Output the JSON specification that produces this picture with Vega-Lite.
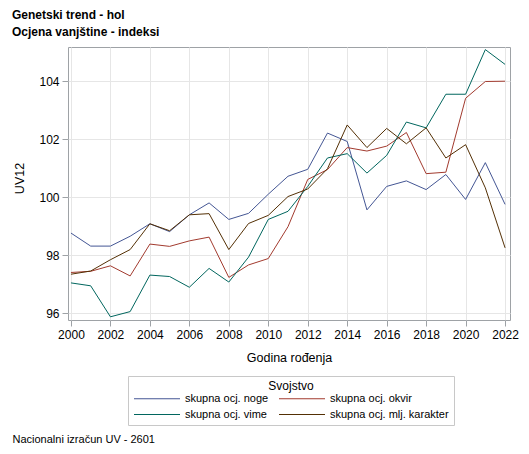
{
  "$schema": "https://vega.github.io/schema/vega-lite/v6.json",
  "description": "Genetski trend - hol, ocjena vanjštine (indeksi UV12) po godini rođenja.",
  "autosize": "none",
  "width": 442,
  "height": 273,
  "padding": {"left": 68, "top": 47, "right": 19, "bottom": 134},
  "background": "white",
  "title": {
    "text": ["Genetski trend - hol", "Ocjena vanjštine - indeksi"],
    "anchor": "start",
    "frame": "group",
    "dx": -56,
    "offset": 8,
    "fontSize": 12,
    "fontWeight": "bold",
    "lineHeight": 17,
    "color": "black"
  },
  "data": {
    "values": [
      {"godina": 2000, "svojstvo": "skupna ocj. noge", "uv12": 98.77},
      {"godina": 2001, "svojstvo": "skupna ocj. noge", "uv12": 98.32},
      {"godina": 2002, "svojstvo": "skupna ocj. noge", "uv12": 98.32},
      {"godina": 2003, "svojstvo": "skupna ocj. noge", "uv12": 98.66},
      {"godina": 2004, "svojstvo": "skupna ocj. noge", "uv12": 99.09},
      {"godina": 2005, "svojstvo": "skupna ocj. noge", "uv12": 98.82},
      {"godina": 2006, "svojstvo": "skupna ocj. noge", "uv12": 99.40},
      {"godina": 2007, "svojstvo": "skupna ocj. noge", "uv12": 99.81},
      {"godina": 2008, "svojstvo": "skupna ocj. noge", "uv12": 99.24},
      {"godina": 2009, "svojstvo": "skupna ocj. noge", "uv12": 99.45},
      {"godina": 2010, "svojstvo": "skupna ocj. noge", "uv12": 100.11},
      {"godina": 2011, "svojstvo": "skupna ocj. noge", "uv12": 100.73},
      {"godina": 2012, "svojstvo": "skupna ocj. noge", "uv12": 100.97},
      {"godina": 2013, "svojstvo": "skupna ocj. noge", "uv12": 102.22},
      {"godina": 2014, "svojstvo": "skupna ocj. noge", "uv12": 101.93},
      {"godina": 2015, "svojstvo": "skupna ocj. noge", "uv12": 99.57},
      {"godina": 2016, "svojstvo": "skupna ocj. noge", "uv12": 100.38},
      {"godina": 2017, "svojstvo": "skupna ocj. noge", "uv12": 100.57},
      {"godina": 2018, "svojstvo": "skupna ocj. noge", "uv12": 100.27},
      {"godina": 2019, "svojstvo": "skupna ocj. noge", "uv12": 100.79},
      {"godina": 2020, "svojstvo": "skupna ocj. noge", "uv12": 99.93},
      {"godina": 2021, "svojstvo": "skupna ocj. noge", "uv12": 101.20},
      {"godina": 2022, "svojstvo": "skupna ocj. noge", "uv12": 99.76},
      {"godina": 2000, "svojstvo": "skupna ocj. okvir", "uv12": 97.41},
      {"godina": 2001, "svojstvo": "skupna ocj. okvir", "uv12": 97.45},
      {"godina": 2002, "svojstvo": "skupna ocj. okvir", "uv12": 97.64},
      {"godina": 2003, "svojstvo": "skupna ocj. okvir", "uv12": 97.29},
      {"godina": 2004, "svojstvo": "skupna ocj. okvir", "uv12": 98.39},
      {"godina": 2005, "svojstvo": "skupna ocj. okvir", "uv12": 98.31},
      {"godina": 2006, "svojstvo": "skupna ocj. okvir", "uv12": 98.50},
      {"godina": 2007, "svojstvo": "skupna ocj. okvir", "uv12": 98.63},
      {"godina": 2008, "svojstvo": "skupna ocj. okvir", "uv12": 97.24},
      {"godina": 2009, "svojstvo": "skupna ocj. okvir", "uv12": 97.67},
      {"godina": 2010, "svojstvo": "skupna ocj. okvir", "uv12": 97.89},
      {"godina": 2011, "svojstvo": "skupna ocj. okvir", "uv12": 98.99},
      {"godina": 2012, "svojstvo": "skupna ocj. okvir", "uv12": 100.62},
      {"godina": 2013, "svojstvo": "skupna ocj. okvir", "uv12": 100.96},
      {"godina": 2014, "svojstvo": "skupna ocj. okvir", "uv12": 101.72},
      {"godina": 2015, "svojstvo": "skupna ocj. okvir", "uv12": 101.60},
      {"godina": 2016, "svojstvo": "skupna ocj. okvir", "uv12": 101.77},
      {"godina": 2017, "svojstvo": "skupna ocj. okvir", "uv12": 102.24},
      {"godina": 2018, "svojstvo": "skupna ocj. okvir", "uv12": 100.82},
      {"godina": 2019, "svojstvo": "skupna ocj. okvir", "uv12": 100.87},
      {"godina": 2020, "svojstvo": "skupna ocj. okvir", "uv12": 103.42},
      {"godina": 2021, "svojstvo": "skupna ocj. okvir", "uv12": 104.00},
      {"godina": 2022, "svojstvo": "skupna ocj. okvir", "uv12": 104.01},
      {"godina": 2000, "svojstvo": "skupna ocj. vime", "uv12": 97.05},
      {"godina": 2001, "svojstvo": "skupna ocj. vime", "uv12": 96.95},
      {"godina": 2002, "svojstvo": "skupna ocj. vime", "uv12": 95.88},
      {"godina": 2003, "svojstvo": "skupna ocj. vime", "uv12": 96.06},
      {"godina": 2004, "svojstvo": "skupna ocj. vime", "uv12": 97.32},
      {"godina": 2005, "svojstvo": "skupna ocj. vime", "uv12": 97.27},
      {"godina": 2006, "svojstvo": "skupna ocj. vime", "uv12": 96.90},
      {"godina": 2007, "svojstvo": "skupna ocj. vime", "uv12": 97.55},
      {"godina": 2008, "svojstvo": "skupna ocj. vime", "uv12": 97.08},
      {"godina": 2009, "svojstvo": "skupna ocj. vime", "uv12": 97.94},
      {"godina": 2010, "svojstvo": "skupna ocj. vime", "uv12": 99.24},
      {"godina": 2011, "svojstvo": "skupna ocj. vime", "uv12": 99.52},
      {"godina": 2012, "svojstvo": "skupna ocj. vime", "uv12": 100.38},
      {"godina": 2013, "svojstvo": "skupna ocj. vime", "uv12": 101.36},
      {"godina": 2014, "svojstvo": "skupna ocj. vime", "uv12": 101.51},
      {"godina": 2015, "svojstvo": "skupna ocj. vime", "uv12": 100.84},
      {"godina": 2016, "svojstvo": "skupna ocj. vime", "uv12": 101.45},
      {"godina": 2017, "svojstvo": "skupna ocj. vime", "uv12": 102.60},
      {"godina": 2018, "svojstvo": "skupna ocj. vime", "uv12": 102.40},
      {"godina": 2019, "svojstvo": "skupna ocj. vime", "uv12": 103.56},
      {"godina": 2020, "svojstvo": "skupna ocj. vime", "uv12": 103.56},
      {"godina": 2021, "svojstvo": "skupna ocj. vime", "uv12": 105.10},
      {"godina": 2022, "svojstvo": "skupna ocj. vime", "uv12": 104.59},
      {"godina": 2000, "svojstvo": "skupna ocj. mlj. karakter", "uv12": 97.35},
      {"godina": 2001, "svojstvo": "skupna ocj. mlj. karakter", "uv12": 97.46},
      {"godina": 2002, "svojstvo": "skupna ocj. mlj. karakter", "uv12": 97.85},
      {"godina": 2003, "svojstvo": "skupna ocj. mlj. karakter", "uv12": 98.20},
      {"godina": 2004, "svojstvo": "skupna ocj. mlj. karakter", "uv12": 99.09},
      {"godina": 2005, "svojstvo": "skupna ocj. mlj. karakter", "uv12": 98.85},
      {"godina": 2006, "svojstvo": "skupna ocj. mlj. karakter", "uv12": 99.40},
      {"godina": 2007, "svojstvo": "skupna ocj. mlj. karakter", "uv12": 99.44},
      {"godina": 2008, "svojstvo": "skupna ocj. mlj. karakter", "uv12": 98.20},
      {"godina": 2009, "svojstvo": "skupna ocj. mlj. karakter", "uv12": 99.10},
      {"godina": 2010, "svojstvo": "skupna ocj. mlj. karakter", "uv12": 99.38},
      {"godina": 2011, "svojstvo": "skupna ocj. mlj. karakter", "uv12": 100.03},
      {"godina": 2012, "svojstvo": "skupna ocj. mlj. karakter", "uv12": 100.29},
      {"godina": 2013, "svojstvo": "skupna ocj. mlj. karakter", "uv12": 100.99},
      {"godina": 2014, "svojstvo": "skupna ocj. mlj. karakter", "uv12": 102.50},
      {"godina": 2015, "svojstvo": "skupna ocj. mlj. karakter", "uv12": 101.72},
      {"godina": 2016, "svojstvo": "skupna ocj. mlj. karakter", "uv12": 102.38},
      {"godina": 2017, "svojstvo": "skupna ocj. mlj. karakter", "uv12": 101.85},
      {"godina": 2018, "svojstvo": "skupna ocj. mlj. karakter", "uv12": 102.40},
      {"godina": 2019, "svojstvo": "skupna ocj. mlj. karakter", "uv12": 101.36},
      {"godina": 2020, "svojstvo": "skupna ocj. mlj. karakter", "uv12": 101.82},
      {"godina": 2021, "svojstvo": "skupna ocj. mlj. karakter", "uv12": 100.33},
      {"godina": 2022, "svojstvo": "skupna ocj. mlj. karakter", "uv12": 98.26}
    ]
  },
  "layer": [
    {
      "transform": [
        {"filter": {"field": "svojstvo", "oneOf": ["skupna ocj. noge", "skupna ocj. okvir"]}}
      ],
      "mark": {"type": "line", "strokeWidth": 1},
      "encoding": {
        "x": {
          "field": "godina",
          "type": "quantitative",
          "scale": {"domain": [1999.85, 2022.25], "nice": false, "zero": false},
          "axis": {
            "title": "Godina rođenja",
            "values": [2000, 2002, 2004, 2006, 2008, 2010, 2012, 2014, 2016, 2018, 2020, 2022],
            "format": "d",
            "grid": true,
            "labelPadding": 3,
            "titlePadding": 11
          }
        },
        "y": {
          "field": "uv12",
          "type": "quantitative",
          "scale": {"domain": [95.77, 105.19], "nice": false, "zero": false},
          "axis": {
            "title": "UV12",
            "values": [96, 98, 100, 102, 104],
            "grid": true,
            "labelPadding": 3,
            "titlePadding": 12,
            "titleY": 131
          }
        },
        "color": {
          "field": "svojstvo",
          "type": "nominal",
          "scale": {
            "domain": ["skupna ocj. noge", "skupna ocj. okvir", "skupna ocj. vime", "skupna ocj. mlj. karakter"],
            "range": ["#445694", "#A23A2E", "#01665E", "#543005"]
          },
          "legend": {
            "title": "Svojstvo",
            "orient": "none",
            "direction": "horizontal",
            "legendX": 60,
            "legendY": 329,
            "columns": 2,
            "symbolType": "M-5.75,0H5.75",
            "symbolSize": 64,
            "symbolStrokeWidth": 1,
            "symbolOffset": 18.5,
            "labelFontSize": 11,
            "labelOffset": 22.5,
            "labelColor": "black",
            "titleAnchor": "middle",
            "titleFontWeight": "normal",
            "titleFontSize": 12,
            "titleColor": "black",
            "titlePadding": 0,
            "rowPadding": 4,
            "columnPadding": 8,
            "padding": 5,
            "strokeColor": "#c8c8c8",
            "fillColor": "white"
          }
        }
      }
    },
    {
      "transform": [
        {"filter": {"field": "svojstvo", "oneOf": ["skupna ocj. vime", "skupna ocj. mlj. karakter"]}}
      ],
      "mark": {"type": "line", "strokeWidth": 1},
      "encoding": {
        "x": {
          "field": "godina",
          "type": "quantitative",
          "scale": {"domain": [1999.85, 2022.25], "nice": false, "zero": false},
          "axis": {
            "title": "Nacionalni izračun UV - 2601",
            "orient": "bottom",
            "labels": false,
            "ticks": false,
            "domain": false,
            "grid": false,
            "titleX": -56,
            "titleY": 122,
            "titleAlign": "left",
            "titleAnchor": "start",
            "titleBaseline": "alphabetic",
            "titleFontSize": 11
          }
        },
        "y": {
          "field": "uv12",
          "type": "quantitative",
          "scale": {"domain": [95.77, 105.19], "nice": false, "zero": false}
        },
        "color": {
          "field": "svojstvo",
          "type": "nominal",
          "scale": {
            "domain": ["skupna ocj. noge", "skupna ocj. okvir", "skupna ocj. vime", "skupna ocj. mlj. karakter"],
            "range": ["#445694", "#A23A2E", "#01665E", "#543005"]
          }
        }
      }
    }
  ],
  "resolve": {"axis": {"x": "independent"}},
  "config": {
    "font": "Liberation Sans",
    "view": {"stroke": "#9ea2a6", "strokeWidth": 1},
    "axis": {
      "domain": false,
      "labelFontSize": 12,
      "labelColor": "black",
      "tickColor": "#9ea2a6",
      "tickSize": 6,
      "gridColor": "#e6e6e6",
      "gridWidth": 1,
      "titleFontSize": 12.5,
      "titleFontWeight": "normal",
      "titleColor": "black"
    }
  }
}
